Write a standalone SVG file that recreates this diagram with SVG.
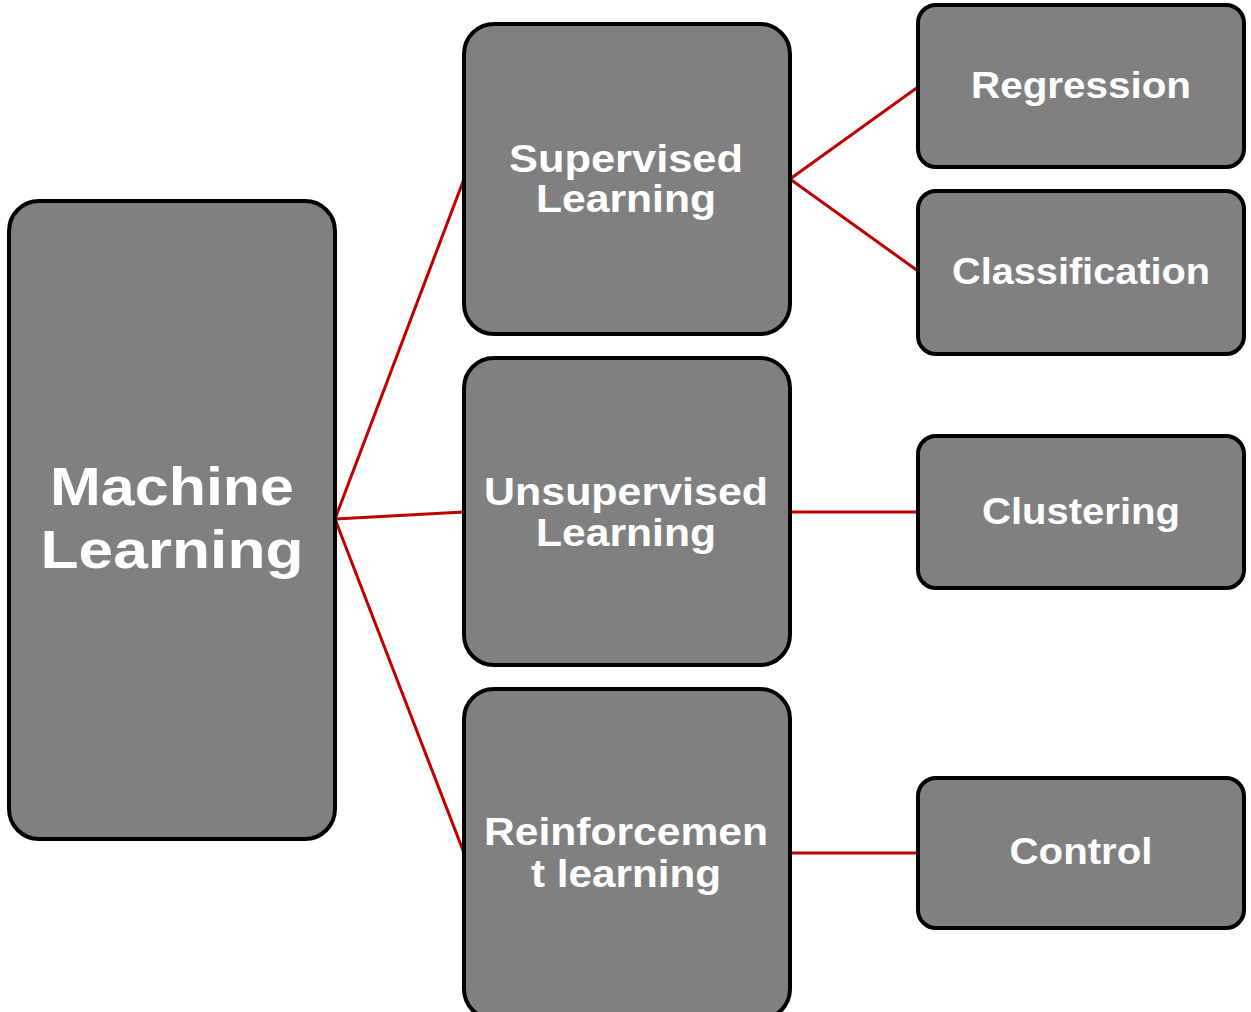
<svg xmlns="http://www.w3.org/2000/svg" width="1251" height="1012" viewBox="0 0 1251 1012">
<style>
.box{fill:#808080;stroke:#000;stroke-width:4}
.t{fill:#fff;font-family:"Liberation Sans",Arial,sans-serif;font-weight:bold;text-anchor:middle}
.l{fill:none;stroke:#c00000;stroke-width:3}
</style>
<rect width="1251" height="1012" fill="#fff"/>
<g id="connectors">
<line class="l" x1="335" y1="519" x2="464" y2="179"/>
<line class="l" x1="335" y1="519" x2="464" y2="512"/>
<line class="l" x1="335" y1="519" x2="464" y2="853"/>
<line class="l" x1="790" y1="179" x2="918" y2="87"/>
<line class="l" x1="790" y1="179" x2="918" y2="271"/>
<line class="l" x1="790" y1="512" x2="918" y2="512"/>
<line class="l" x1="790" y1="853" x2="918" y2="853"/>
</g>
<g id="ml">
<rect class="box" x="9" y="201" width="326" height="638" rx="30"/>
<text class="t" x="172" y="505" font-size="54" textLength="244" lengthAdjust="spacingAndGlyphs">Machine</text>
<text class="t" x="172" y="568" font-size="54" textLength="263" lengthAdjust="spacingAndGlyphs">Learning</text>
</g>
<g id="supervised">
<rect class="box" x="464" y="24" width="326" height="310" rx="30"/>
<text class="t" x="626" y="172" font-size="38" textLength="234" lengthAdjust="spacingAndGlyphs">Supervised</text>
<text class="t" x="626" y="212" font-size="38" textLength="180" lengthAdjust="spacingAndGlyphs">Learning</text>
</g>
<g id="unsupervised">
<rect class="box" x="464" y="358" width="326" height="307" rx="30"/>
<text class="t" x="626" y="505" font-size="38" textLength="284" lengthAdjust="spacingAndGlyphs">Unsupervised</text>
<text class="t" x="626" y="546" font-size="38" textLength="180" lengthAdjust="spacingAndGlyphs">Learning</text>
</g>
<g id="reinforcement">
<rect class="box" x="464" y="689" width="326" height="330" rx="30"/>
<text class="t" x="626" y="845" font-size="38" textLength="284" lengthAdjust="spacingAndGlyphs">Reinforcemen</text>
<text class="t" x="626" y="887" font-size="38" textLength="190" lengthAdjust="spacingAndGlyphs">t learning</text>
</g>
<g id="regression">
<rect class="box" x="918" y="5" width="326" height="162" rx="18"/>
<text class="t" x="1081" y="98" font-size="36" textLength="220" lengthAdjust="spacingAndGlyphs">Regression</text>
</g>
<g id="classification">
<rect class="box" x="918" y="191" width="326" height="163" rx="18"/>
<text class="t" x="1081" y="284" font-size="36" textLength="258" lengthAdjust="spacingAndGlyphs">Classification</text>
</g>
<g id="clustering">
<rect class="box" x="918" y="436" width="326" height="152" rx="18"/>
<text class="t" x="1081" y="524" font-size="36" textLength="198" lengthAdjust="spacingAndGlyphs">Clustering</text>
</g>
<g id="control">
<rect class="box" x="918" y="778" width="326" height="150" rx="18"/>
<text class="t" x="1081" y="864" font-size="36" textLength="143" lengthAdjust="spacingAndGlyphs">Control</text>
</g>
</svg>
